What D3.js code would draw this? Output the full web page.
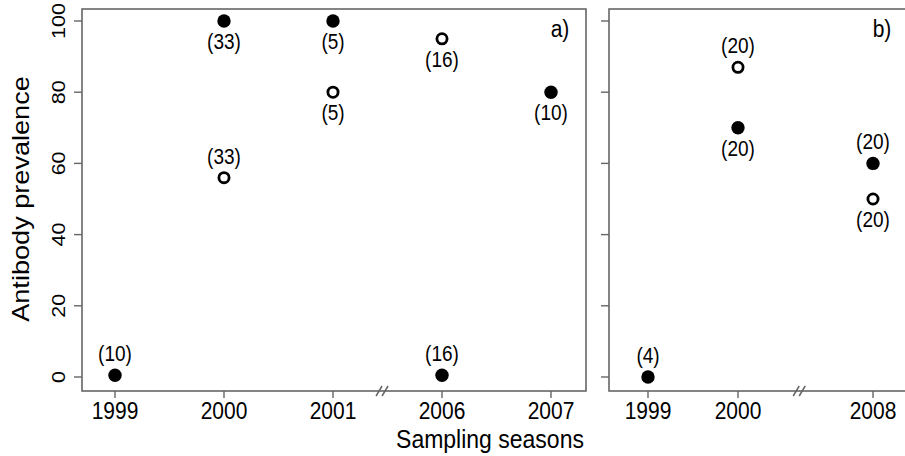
<!DOCTYPE html>
<html>
<head>
<meta charset="utf-8">
<script src="https://cdn.jsdelivr.net/npm/d3@7"></script>
<style>
  body { margin: 0; background: #fff; }
  text { font-family: "Liberation Sans", Arial, sans-serif; fill: #000; }
</style>
</head>
<body>
<svg id="chart" width="905" height="456"></svg>
<script>
// panel a) seasons and values
const seasonsA = ['1999', '2000', '2001', '2006', '2007'];
const slotsA = [0, 1, 2, 3, 4];
const filledA = [0.5, 100, 100, 0.5, 80];
const filledNA = ['(10)', '(33)', '(5)', '(16)', '(10)'];
const filledPosA = ['above', 'below', 'below', 'above', 'below'];
const openA = [null, 56, 80, 95, null];
const openNA = [null, '(33)', '(5)', '(16)', null];
const openPosA = [null, 'above', 'below', 'below', null];

// panel b)
const seasonsB = ['1999', '2000', '2008'];
const slotsB = [0, 1, 2.5];
const filledB = [0, 70, 60];
const filledNB = ['(4)', '(20)', '(20)'];
const filledPosB = ['above', 'below', 'above'];
const openB = [null, 87, 50];
const openNB = [null, '(20)', '(20)'];
const openPosB = [null, 'above', 'below'];

const yTicks = [0, 20, 40, 60, 80, 100];

const svg = d3.select('#chart');
const frameTop = 9, frameBottom = 391;
const y = d3.scaleLinear().domain([0, 100]).range([377, 21]);
const frameColor = '#666';
const stretch = 1.13; // the original glyphs are a bit taller than wide

function panel(p) {
  const g = svg.append('g');
  const x = d3.scaleLinear().domain([0, p.slotMax]).range(p.xRange);

  // frame
  g.append('rect')
    .attr('x', p.left).attr('y', frameTop)
    .attr('width', p.right - p.left).attr('height', frameBottom - frameTop)
    .attr('fill', 'none').attr('stroke', frameColor).attr('stroke-width', 1.6);

  // y ticks
  g.selectAll('.yt').data(yTicks).join('line')
    .attr('x1', p.left - 8).attr('x2', p.left)
    .attr('y1', d => y(d)).attr('y2', d => y(d))
    .attr('stroke', frameColor).attr('stroke-width', 1.4);
  if (p.yLabels) {
    g.selectAll('.yl').data(yTicks).join('text')
      .attr('transform', d => `translate(65,${y(d)}) rotate(-90) scale(${stretch},1)`)
      .attr('text-anchor', 'middle')
      .style('font-size', '19px')
      .text(d => d);
  }

  // x ticks
  g.selectAll('.xt').data(p.slots).join('line')
    .attr('x1', d => x(d)).attr('x2', d => x(d))
    .attr('y1', frameBottom).attr('y2', frameBottom + 7)
    .attr('stroke', frameColor).attr('stroke-width', 1.4);
  g.selectAll('.xl').data(p.seasons).join('text')
    .attr('transform', (d, i) => `translate(${x(p.slots[i])},419) scale(1,${stretch})`)
    .attr('text-anchor', 'middle')
    .style('font-size', '21px')
    .text(d => d);

  // axis break
  const bx = x(p.breakSlot);
  [-3, 3].forEach(dx => {
    g.append('line')
      .attr('x1', bx + dx - 3).attr('y1', frameBottom + 5)
      .attr('x2', bx + dx + 3).attr('y2', frameBottom - 5)
      .attr('stroke', frameColor).attr('stroke-width', 1.5);
  });

  // panel tag
  g.append('text')
    .attr('transform', `translate(${p.tagX},37) scale(1,${stretch})`)
    .attr('text-anchor', 'middle')
    .style('font-size', '21px')
    .text(p.tag);

  const pts = [];
  p.slots.forEach((s, i) => {
    if (p.filled[i] != null) pts.push({ s, v: p.filled[i], n: p.filledN[i], pos: p.filledPos[i], open: false });
    if (p.open[i] != null) pts.push({ s, v: p.open[i], n: p.openN[i], pos: p.openPos[i], open: true });
  });

  g.selectAll('.pt').data(pts).join('circle')
    .attr('cx', d => x(d.s)).attr('cy', d => y(d.v))
    .attr('r', d => d.open ? 5.1 : 6.7)
    .attr('fill', d => d.open ? '#fff' : '#000')
    .attr('stroke', '#000')
    .attr('stroke-width', d => d.open ? 2.8 : 0);

  g.selectAll('.pl').data(pts).join('text')
    .attr('transform', d => `translate(${x(d.s)},${y(d.v) + (d.pos === 'above' ? -14 : 28)}) scale(1,${stretch})`)
    .attr('text-anchor', 'middle')
    .style('font-size', '19px')
    .text(d => d.n);
}

panel({
  left: 82, right: 586, xRange: [115, 551], slotMax: 4,
  slots: slotsA, seasons: seasonsA, breakSlot: 2.45, yLabels: true,
  filled: filledA, filledN: filledNA, filledPos: filledPosA,
  open: openA, openN: openNA, openPos: openPosA,
  tag: 'a)', tagX: 560
});

panel({
  left: 609, right: 908, xRange: [648, 873], slotMax: 2.5,
  slots: slotsB, seasons: seasonsB, breakSlot: 1.68, yLabels: false,
  filled: filledB, filledN: filledNB, filledPos: filledPosB,
  open: openB, openN: openNB, openPos: openPosB,
  tag: 'b)', tagX: 882
});

// axis titles
svg.append('text')
  .attr('transform', `translate(490,448) scale(1,${stretch})`)
  .attr('text-anchor', 'middle')
  .style('font-size', '23px')
  .text('Sampling seasons');

svg.append('text')
  .attr('transform', `translate(29,199) rotate(-90) scale(${stretch},1)`)
  .attr('text-anchor', 'middle')
  .style('font-size', '24px')
  .text('Antibody prevalence');
</script>
</body>
</html>
